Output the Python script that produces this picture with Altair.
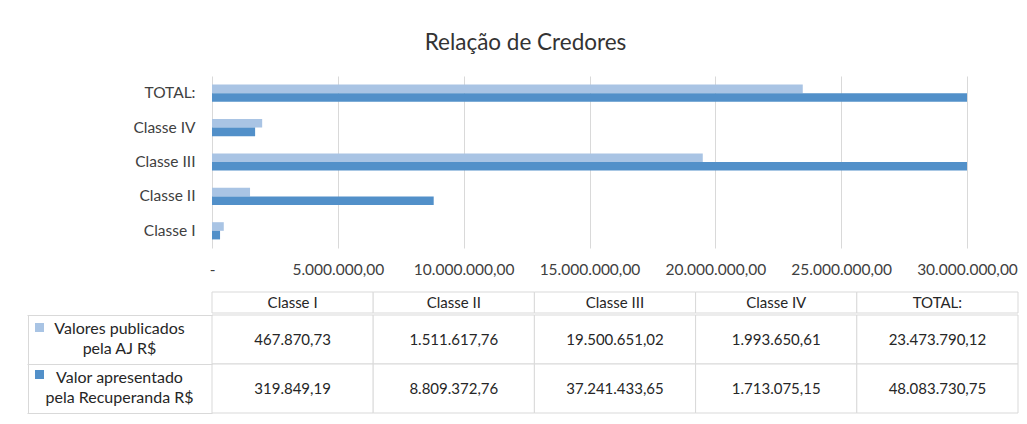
import altair as alt
import pandas as pd

classes = ["Classe I", "Classe II", "Classe III", "Classe IV", "TOTAL:"]
series = ["Valores publicados\npela AJ  R$", "Valor apresentado\npela Recuperanda  R$"]
publicados = [467870.73, 1511617.76, 19500651.02, 1993650.61, 23473790.12]
apresentado = [319849.19, 8809372.76, 37241433.65, 1713075.15, 48083730.75]
x_ticks = [0, 5000000, 10000000, 15000000, 20000000, 25000000, 30000000]
x_domain = [0, 30000000]
colors = ["#a9c4e4", "#5290c9"]
title = "Relação de Credores"

FONT = "Lato"
GRID = "#d9d9d9"
TXT = "#404040"

records = []
for cls, v1, v2 in zip(classes, publicados, apresentado):
    records.append({"classe": cls, "serie": series[0], "valor": v1})
    records.append({"classe": cls, "serie": series[1], "valor": v2})
df = pd.DataFrame(records)
hdr = pd.DataFrame({"classe": classes})

bar_order = list(reversed(classes))

bars = alt.Chart(df).mark_bar().encode(
    x=alt.X("valor:Q", title=None,
            scale=alt.Scale(domain=x_domain, nice=False, clamp=True, zero=True),
            axis=alt.Axis(values=x_ticks, format=",.2f",
                          labelExpr="datum.value == 0 ? '-' : datum.label",
                          labelOverlap=False, labelFlush=False,
                          grid=True, gridColor=GRID, domain=False, ticks=False,
                          labelPadding=14, labelFontSize=15.5, labelColor=TXT,
                          labelFont=FONT)),
    y=alt.Y("classe:N", title=None, sort=bar_order,
            scale=alt.Scale(paddingInner=0.5, paddingOuter=0.25),
            axis=alt.Axis(domain=False, ticks=False, labelPadding=17, labelFontSize=15.5,
                          labelColor=TXT, labelFont=FONT)),
    yOffset=alt.YOffset("serie:N", sort=series),
    color=alt.Color("serie:N", sort=series,
                    scale=alt.Scale(domain=series, range=colors),
                    legend=alt.Legend(title=None, orient="none", legendX=-177, legendY=247,
                                      direction="vertical", symbolType="square",
                                      symbolSize=81, symbolStrokeWidth=0,
                                      labelExpr="''", labelFontSize=8, rowPadding=38)),
).properties(width=755, height=172)

col_x = alt.X("classe:N", sort=classes, title=None, axis=None,
              scale=alt.Scale(paddingInner=0, paddingOuter=0))

header = alt.layer(
    alt.Chart(hdr).mark_rect(fill="white", stroke=GRID, strokeWidth=1).encode(x=col_x),
    alt.Chart(hdr).mark_text(font=FONT, fontSize=15, color="#262626").encode(
        x=col_x, text="classe:N"),
).properties(width=806, height=21)

row_y_main = alt.Y("serie:N", sort=series, title=None,
                   scale=alt.Scale(paddingInner=0, paddingOuter=0),
                   axis=alt.Axis(orient="left", domain=False, ticks=True, tickBand="extent",
                                 tickSize=185, tickColor=GRID, tickWidth=1,
                                 labelExpr="split(datum.label, '\\n')",
                                 labelAlign="center", labelBaseline="top",
                                 labelPadding=-92, labelOffset=-19,
                                 labelFontSize=16, labelLineHeight=20, labelColor="#262626",
                                 labelFont=FONT, labelLimit=240))

row_y_edge = alt.Y("serie:N", sort=series, title=None,
                   scale=alt.Scale(paddingInner=0, paddingOuter=0),
                   axis=alt.Axis(orient="left", domain=True, domainColor=GRID, domainWidth=1,
                                 ticks=False, labels=False, grid=False, offset=184))

rows = alt.layer(
    alt.Chart(df).mark_rect(fill="white", stroke=GRID, strokeWidth=1).encode(
        x=col_x, y=row_y_main),
    alt.Chart(df).mark_text(font=FONT, fontSize=15, color="#262626").encode(
        x=col_x, y=row_y_edge, text=alt.Text("valor:Q", format=",.2f")),
).resolve_axis(y="independent").properties(width=806, height=98)

table = alt.vconcat(header, rows, spacing=0)

chart = alt.vconcat(bars, table, spacing=13).properties(
    title=alt.TitleParams(text=title, anchor="middle", frame="bounds", font=FONT,
                          fontSize=22.5, fontWeight="normal", color="#333333",
                          offset=22, dx=3),
    padding={"left": 18, "top": 23, "right": 0, "bottom": 2},
    background="white",
).configure(
    locale={"number": {"decimal": ",", "thousands": ".", "grouping": [3],
                       "currency": ["R$", ""]}}
).configure_view(stroke=None)

chart.save("out.html", embed_options={"renderer": "svg", "actions": False})
